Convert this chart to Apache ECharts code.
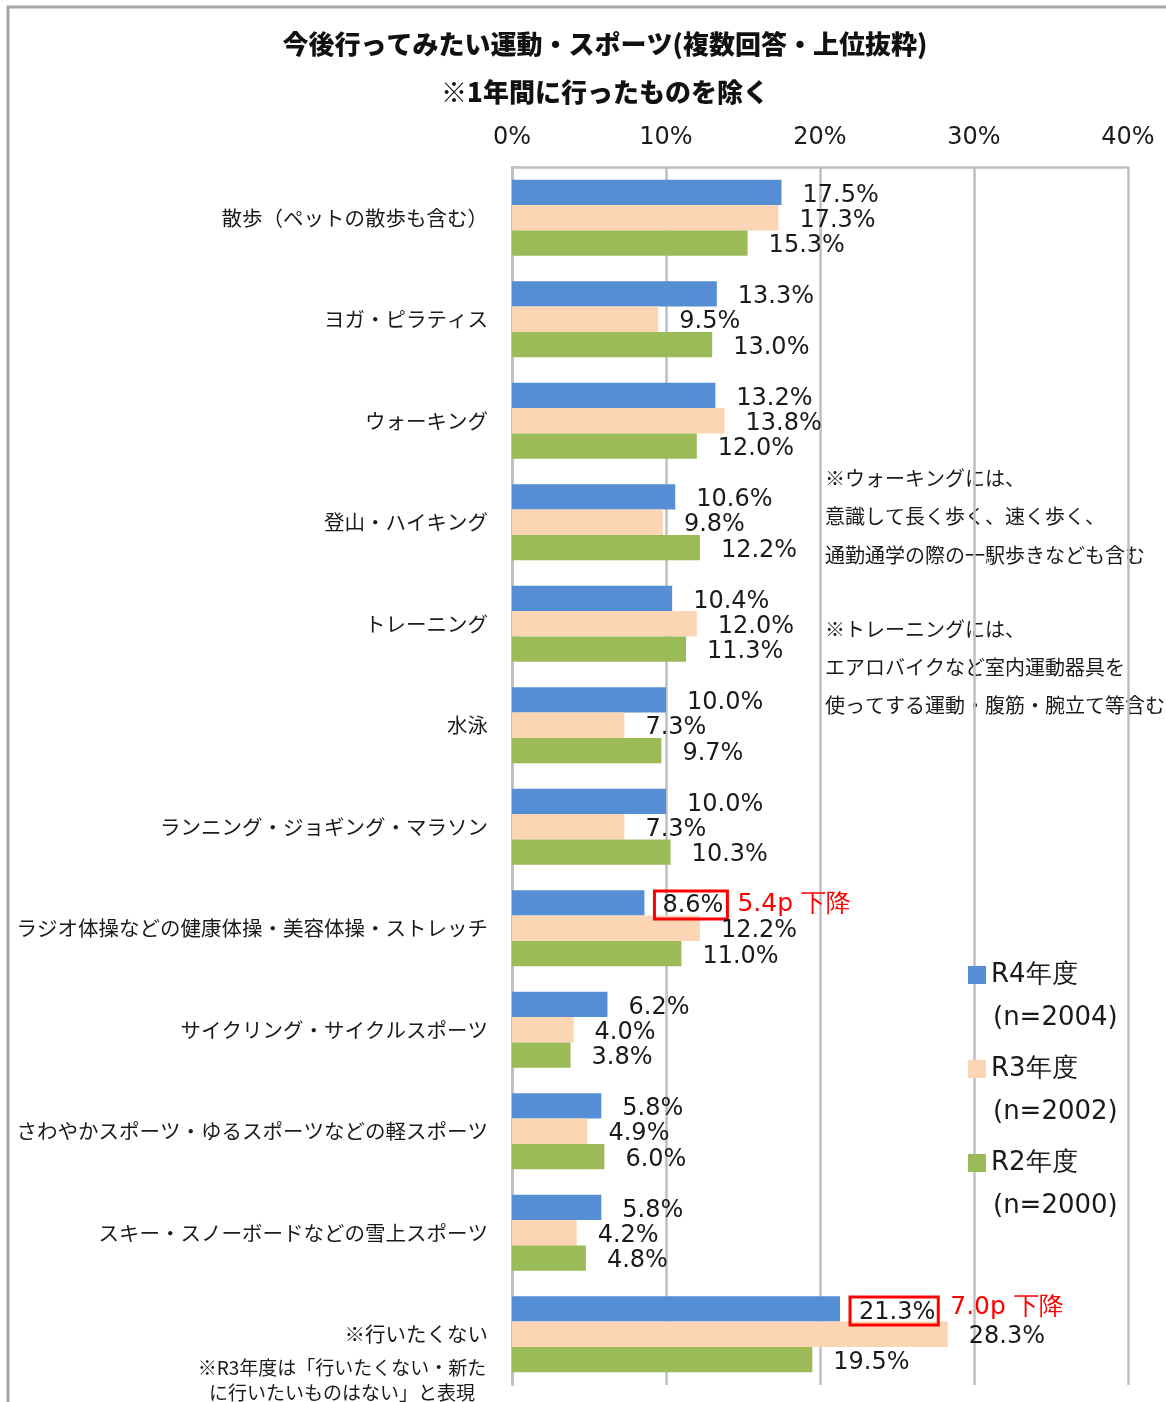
<!DOCTYPE html>
<html>
<head>
<meta charset="utf-8">
<script src="https://cdn.jsdelivr.net/npm/echarts@6/dist/echarts.min.js"></script>
<style>
  html, body { margin: 0; padding: 0; background: #ffffff; }
  #chart { width: 1166px; height: 1402px; }
</style>
</head>
<body>
<div id="chart"></div>
<script>
// Activities people want to try, survey shares (%) by fiscal year
const categories = [
  '散歩（ペットの散歩も含む）',
  'ヨガ・ピラティス',
  'ウォーキング',
  '登山・ハイキング',
  'トレーニング',
  '水泳',
  'ランニング・ジョギング・マラソン',
  'ラジオ体操などの健康体操・美容体操・ストレッチ',
  'サイクリング・サイクルスポーツ',
  'さわやかスポーツ・ゆるスポーツなどの軽スポーツ',
  'スキー・スノーボードなどの雪上スポーツ',
  '※行いたくない'
];
const seriesNames = ['R4年度', 'R3年度', 'R2年度'];
const sampleSizes = ['(n=2004)', '(n=2002)', '(n=2000)'];
const valuesR4 = [17.5, 13.3, 13.2, 10.6, 10.4, 10.0, 10.0, 8.6, 6.2, 5.8, 5.8, 21.3];
const valuesR3 = [17.3, 9.5, 13.8, 9.8, 12.0, 7.3, 7.3, 12.2, 4.0, 4.9, 4.2, 28.3];
const valuesR2 = [15.3, 13.0, 12.0, 12.2, 11.3, 9.7, 10.3, 11.0, 3.8, 6.0, 4.8, 19.5];
const xTicks = [0, 10, 20, 30, 40];
// highlighted R4 values and their change notes
const highlightIndex = [7, 11];
const highlightNotes = ['5.4p 下降', '7.0p 下降'];

const colors = ['#558ED5', '#FCD5B5', '#9BBB59'];
const jp = '"Noto Sans CJK JP", "Noto Sans", sans-serif';
const num = '"DejaVu Sans", Verdana, sans-serif';
const gridColor = '#BFBFBF';
const textColor = '#1a1a1a';

function labelFmt(p) { return p.value.toFixed(1) + '%'; }

const baseLabel = {
  show: true,
  position: 'right',
  distance: 21,
  offset: [0, 3],
  fontFamily: num,
  fontSize: 24,
  color: textColor,
  formatter: labelFmt
};

function r4Data() {
  return valuesR4.map(function (v, i) {
    const k = highlightIndex.indexOf(i);
    if (k < 0) return v;
    return {
      value: v,
      label: {
        distance: 10,
        offset: [0, 2],
        formatter: '{box|' + v.toFixed(1) + '%}{note|' + highlightNotes[k] + '}',
        rich: {
          box: {
            fontFamily: num, fontSize: 24, color: textColor,
            borderColor: '#FF0000', borderWidth: 3,
            padding: k === 0 ? [3, 4, 1, 8] : [4, 3, 0, 9]
          },
          note: {
            fontFamily: num, fontSize: 25, color: '#FF0000',
            padding: k === 0 ? [0, 0, 0, 10] : [0, 0, 6, 12]
          }
        }
      }
    };
  });
}

function bar(name, data, color) {
  return {
    name: name,
    type: 'bar',
    data: data,
    barGap: '0%',
    barCategoryGap: '25%',
    itemStyle: { color: color },
    label: baseLabel,
    emphasis: { disabled: true },
    animation: false
  };
}

const chart = echarts.init(document.getElementById('chart'), null, { renderer: 'canvas' });

const noteStyle = { fontFamily: jp, fontSize: 20, fill: textColor, textVerticalAlign: 'middle' };
function note(text, x, y, extra) {
  return { type: 'text', x: x, y: y, silent: true,
           style: Object.assign({ text: text }, noteStyle, extra || {}) };
}

chart.setOption({
  backgroundColor: '#ffffff',
  animation: false,
  color: colors,
  title: {
    text: '今後行ってみたい運動・スポーツ(複数回答・上位抜粋)\n※1年間に行ったものを除く',
    left: 605,
    top: 20,
    padding: 0,
    textAlign: 'center',
    textStyle: { fontFamily: jp, fontSize: 26, fontWeight: 900, color: '#111', lineHeight: 48 }
  },
  legend: {
    data: seriesNames,
    orient: 'vertical',
    left: 968,
    top: 960,
    padding: 0,
    icon: 'rect',
    itemWidth: 18,
    itemHeight: 18,
    itemGap: 64,
    textStyle: { fontFamily: num, fontSize: 26, color: textColor, lineHeight: 30 },
    selectedMode: false
  },
  grid: { left: 512, right: 38, top: 167, bottom: 17, containLabel: false },
  xAxis: {
    type: 'value',
    position: 'top',
    min: xTicks[0],
    max: xTicks[xTicks.length - 1],
    interval: 10,
    axisLine: { show: true, lineStyle: { color: gridColor, width: 2.5 } },
    axisTick: { show: false },
    splitLine: { show: true, lineStyle: { color: gridColor, width: 2.5 } },
    axisLabel: { margin: 17, fontFamily: num, fontSize: 24, color: textColor, formatter: '{value}%' }
  },
  yAxis: {
    type: 'category',
    data: categories,
    inverse: true,
    axisLine: { show: true, lineStyle: { color: gridColor, width: 2.5 } },
    axisTick: { show: false },
    axisLabel: { margin: 24, fontFamily: jp, fontSize: 20.5, color: textColor, interval: 0 }
  },
  series: [
    bar(seriesNames[0], r4Data(), colors[0]),
    bar(seriesNames[1], valuesR3, colors[1]),
    bar(seriesNames[2], valuesR2, colors[2])
  ],
  graphic: [
    // outer frame
    { type: 'polyline', silent: true,
      shape: { points: [[8, 1402], [8, 7], [1166, 7]] },
      style: { stroke: '#A6A6A6', lineWidth: 3, fill: null } },
    // sample sizes under legend entries
    note(sampleSizes[0], 993, 1018, { fontFamily: num, fontSize: 26 }),
    note(sampleSizes[1], 993, 1112, { fontFamily: num, fontSize: 26 }),
    note(sampleSizes[2], 993, 1206, { fontFamily: num, fontSize: 26 }),
    // definitions
    note('※ウォーキングには、', 825, 478),
    note('意識して長く歩く、速く歩く、', 825, 516),
    note('通勤通学の際の一駅歩きなども含む', 825, 555),
    note('※トレーニングには、', 825, 629),
    note('エアロバイクなど室内運動器具を', 825, 667),
    note('使ってする運動・腹筋・腕立て等含む', 825, 705),
    // wording note for the last category
    note('※R3年度は「行いたくない・新た', 342, 1368, { textAlign: 'center', fontSize: 19 }),
    note('に行いたいものはない」と表現', 342, 1393, { textAlign: 'center', fontSize: 19 })
  ]
});
</script>
</body>
</html>
